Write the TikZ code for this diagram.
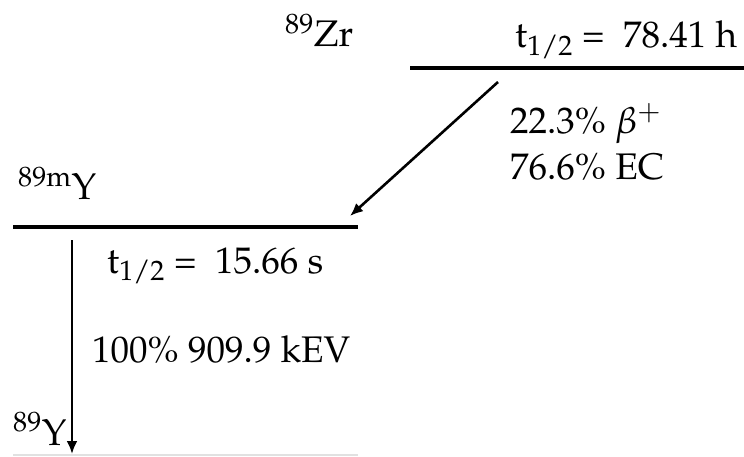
\documentclass[tikz,border=0pt]{standalone}
\usepackage[T1]{fontenc}
\usepackage{mathpazo}
\usepackage{tikz}
\usetikzlibrary{arrows.meta}
\definecolor{lvlgray}{RGB}{225,225,225}

\begin{document}
\begin{tikzpicture}[
  x=1pt, y=-1pt,
  lbl/.style={anchor=base west, inner sep=0pt, font=\fontsize{37}{46}\selectfont},
  lvl/.style={line width=3.4pt},
  arr/.style={-{Latex[length=13pt,width=11pt]}, line width=2.6pt}
]
\useasboundingbox (0,0) rectangle (744,457);
% levels
\coordinate (zrL) at (410,68);
\coordinate (zrR) at (744,68);
\coordinate (ymL) at (13,227);
\coordinate (ymR) at (358,227);
\coordinate (ygL) at (13,455);
\coordinate (ygR) at (358,455);
\draw[lvl] (zrL) -- (zrR);
\draw[lvl] (ymL) -- (ymR);
\draw[lvlgray, line width=1.2pt] (ygL) -- (ygR);
% labels
\node[lbl] (zr) at (285,47) {\textsuperscript{89}Zr};
\node[lbl] (zrhalf) at (515,48) {t\textsubscript{1/2} =\ \ 78.41 h};
\node[lbl] (beta) at (510,134) {22.3\% $\beta^{+}$};
\node[lbl] (ec) at (510,180) {76.6\% EC};
\node[lbl] (ym) at (18,200) {\textsuperscript{89m}Y};
\node[lbl] (ymhalf) at (107,273) {t\textsubscript{1/2} =\ \ 15.66 s};
\node[lbl] (gamma) at (92,362) {100\% 909.9 kEV};
\node[lbl] (yg) at (13,445) {\textsuperscript{89}Y};
% transitions
\coordinate (ecS) at (498,82);
\coordinate (ecE) at (350,216);
\coordinate (itS) at (72,240);
\coordinate (itE) at (72,454);
\draw[arr] (ecS) -- (ecE);
\draw[arr] (itS) -- (itE);
\end{tikzpicture}
\end{document}
